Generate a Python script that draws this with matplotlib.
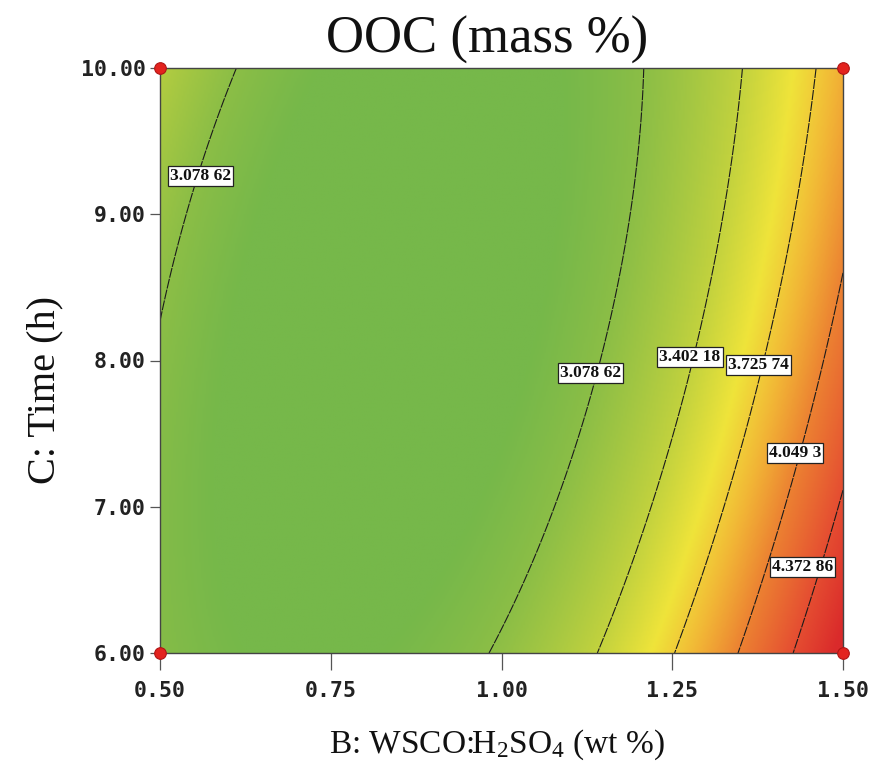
import numpy as np
import matplotlib
matplotlib.use('Agg')
import matplotlib.pyplot as plt
from matplotlib.colors import LinearSegmentedColormap, Normalize

# ---------------- data ----------------
b_range = [0.5, 1.5]
c_range = [6.0, 10.0]
x_ticks = [0.50, 0.75, 1.00, 1.25, 1.50]
y_ticks = [6.00, 7.00, 8.00, 9.00, 10.00]
contour_levels = [3.07862, 3.40218, 3.72574, 4.0493, 4.37286]

# contour crossing points (B, C, index of level)
pt_B = [0.613, 0.500, 1.210, 1.187, 1.147, 1.075, 0.982,
        1.354, 1.324, 1.282, 1.220, 1.141,
        1.460, 1.427, 1.383, 1.326, 1.251,
        1.500, 1.474, 1.415, 1.349,
        1.500, 1.491, 1.427]
pt_C = [10.0, 8.29, 10.0, 9.0, 8.0, 7.01, 6.0,
        10.0, 9.0, 8.0, 7.01, 6.0,
        10.0, 9.0, 8.0, 7.01, 6.0,
        8.60, 8.0, 7.01, 6.0,
        7.09, 7.01, 6.0]
pt_L = [0, 0, 0, 0, 0, 0, 0,
        1, 1, 1, 1, 1,
        2, 2, 2, 2, 2,
        3, 3, 3, 3,
        4, 4, 4]

# contour label positions
label_B = [0.559, 1.130, 1.276, 1.376, 1.430, 1.441]
label_C = [9.26, 7.915, 8.024, 7.969, 7.368, 6.588]
label_L = [0, 0, 1, 2, 3, 4]

# design points (corners)
design_B = [0.5, 0.5, 1.5, 1.5]
design_C = [6.0, 10.0, 6.0, 10.0]

# colour scale anchors
color_values = [2.90, 3.08, 3.40, 3.62, 3.82, 4.05, 4.37, 4.65]
color_hex = ['#76B84A', '#8CBE46', '#C2D23E', '#EFE43A', '#F2B836',
             '#EC8232', '#E54E31', '#DA2A2B']

# ---------------- fit quadratic response surface ----------------
def coded(b, c):
    return (np.asarray(b) - 1.0) / 0.5, (np.asarray(c) - 8.0) / 2.0

def design_matrix(u, v):
    return np.column_stack([np.ones_like(u), u, v, u * v, u ** 2, v ** 2])

u_pts, v_pts = coded(pt_B, pt_C)
target = np.array([contour_levels[i] for i in pt_L])
coef, *_ = np.linalg.lstsq(design_matrix(u_pts, v_pts), target, rcond=None)

bg = np.linspace(b_range[0], b_range[1], 400)
cg = np.linspace(c_range[0], c_range[1], 400)
BB, CC = np.meshgrid(bg, cg)
UU, VV = coded(BB, CC)
F = (design_matrix(UU.ravel(), VV.ravel()) @ coef).reshape(BB.shape)

# ---------------- plot ----------------
plt.rcParams['mathtext.default'] = 'regular'
vmin, vmax = color_values[0], color_values[-1]
pos = [(v - vmin) / (vmax - vmin) for v in color_values]
cmap = LinearSegmentedColormap.from_list('de', list(zip(pos, color_hex)))
norm = Normalize(vmin=vmin, vmax=vmax, clip=True)

fig = plt.figure(figsize=(8.73, 7.76), dpi=100)
fig.patch.set_facecolor('white')
ax = fig.add_axes([160 / 873, 1 - 653 / 776, 683 / 873, 585 / 776])

ax.imshow(F, extent=[b_range[0], b_range[1], c_range[0], c_range[1]],
          origin='lower', aspect='auto', cmap=cmap, norm=norm,
          interpolation='bilinear', zorder=1)
ax.contour(BB, CC, F, levels=contour_levels, colors='#1a1a1a',
           linewidths=0.8, linestyles=[(0, (9, 1))], zorder=2)

def fmt_level(v):
    s = f"{v:.5f}".rstrip('0')
    ip, dp = s.split('.')
    groups = [dp[i:i + 3] for i in range(0, len(dp), 3)]
    return ip + '.' + ' '.join(groups)

for b, c, li in zip(label_B, label_C, label_L):
    ax.text(b, c, fmt_level(contour_levels[li]), ha='center', va='center',
            fontsize=12.5, fontweight='bold', family='Liberation Serif',
            color='#111111', zorder=4,
            bbox=dict(boxstyle='square,pad=0.12', fc='white', ec='#222222', lw=0.9))

ax.scatter(design_B, design_C, s=70, c='#E3231E', edgecolors='#B01515',
           linewidths=0.8, zorder=6, clip_on=False)

ax.set_xlim(b_range)
ax.set_ylim(c_range)
ax.set_xticks(x_ticks)
ax.set_yticks(y_ticks)
ax.set_xticklabels([f"{v:.2f}" for v in x_ticks])
ax.set_yticklabels([f"{v:.2f}" for v in y_ticks])
for lab in ax.get_xticklabels() + ax.get_yticklabels():
    lab.set_family('DejaVu Sans Mono')
    lab.set_fontweight('bold')
    lab.set_fontsize(15.5)
    lab.set_color('#222222')
ax.tick_params(axis='x', direction='out', length=12, width=0.9,
               color='#555555', pad=8)
ax.tick_params(axis='y', direction='out', length=7, width=0.9,
               color='#555555', pad=3)
for s in ax.spines.values():
    s.set_color('#444444')
    s.set_linewidth(1.0)

fig.text(487 / 873, 1 - 40 / 776, 'OOC (mass %)', ha='center', va='center',
         fontsize=38, family='Liberation Serif', color='#111111')
fig.text(497 / 873, 1 - 745 / 776, 'B: WSCO:H$_2$SO$_4$ (wt %)', ha='center',
         va='center', fontsize=24, family='Liberation Serif', color='#111111')
fig.text(45 / 873, 1 - 390 / 776, 'C: Time (h)', ha='center', va='center',
         rotation=90, fontsize=29, family='Liberation Serif', color='#111111')

fig.savefig('out.png', dpi=100, facecolor='white')
